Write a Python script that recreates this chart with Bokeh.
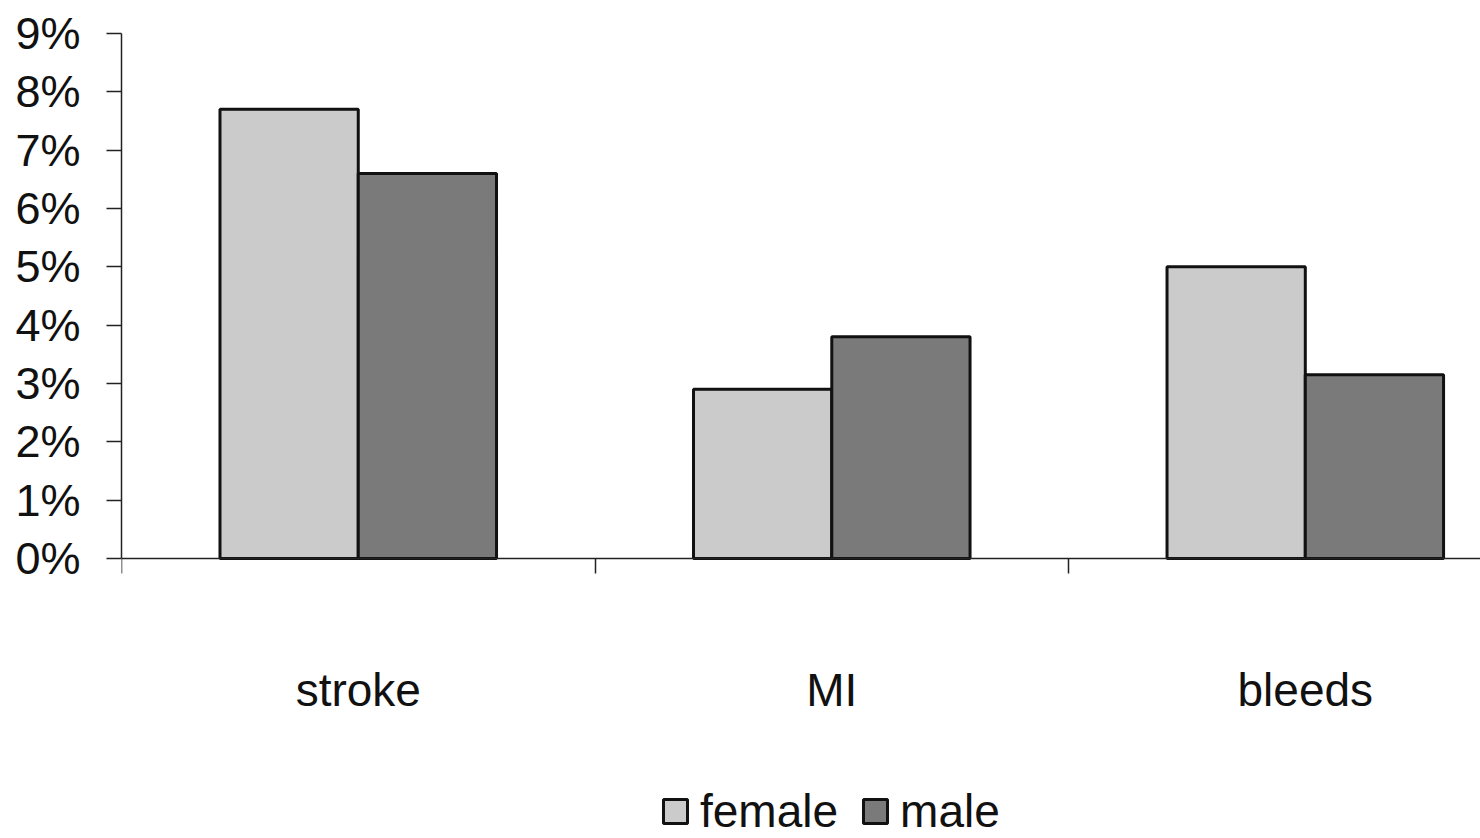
from bokeh.plotting import figure
from bokeh.models import FixedTicker, PrintfTickFormatter, Legend, LegendItem, ColumnDataSource
from bokeh.embed import file_html
from bokeh.resources import INLINE

categories = ["stroke", "MI", "bleeds"]
female = [7.7, 2.9, 5.0]
male = [6.6, 3.8, 3.15]
y_ticks = [0, 1, 2, 3, 4, 5, 6, 7, 8, 9]

FONT = "Liberation Sans"
bar_w = 0.292
centers = [i + 0.5 for i in range(len(categories))]

# frame runs from the 9% line down to the bottom of the picture; the x axis sits at 0%
p = figure(width=1480, height=838, output_backend="svg", toolbar_location=None,
           x_range=(0, 2.87), y_range=(-4.8, 9),
           min_border_left=121, min_border_top=33, min_border_bottom=0, min_border_right=0)
p.outline_line_color = None
p.grid.visible = False
p.background_fill_color = "white"
p.border_fill_color = "white"

src_f = ColumnDataSource(dict(x=[c - bar_w / 2 for c in centers], top=female))
src_m = ColumnDataSource(dict(x=[c + bar_w / 2 for c in centers], top=male))
rf = p.vbar(x="x", top="top", bottom=0, width=bar_w, source=src_f,
            fill_color="#cbcbcb", line_color="#111111", line_width=3)
rm = p.vbar(x="x", top="top", bottom=0, width=bar_w, source=src_m,
            fill_color="#7a7a7a", line_color="#111111", line_width=3)

# y axis
ya = p.yaxis[0]
ya.ticker = FixedTicker(ticks=y_ticks)
ya.formatter = PrintfTickFormatter(format="%d%%")
ya.bounds = (0, 9)
ya.major_tick_out = 15
ya.major_tick_in = 0
ya.minor_tick_out = 0
ya.minor_tick_in = 0
ya.major_label_standoff = 26
ya.major_label_text_font = FONT
ya.major_label_text_font_size = "45px"
ya.major_label_text_color = "#111111"
ya.axis_line_color = "#222222"
ya.axis_line_width = 1.5
ya.major_tick_line_color = "#222222"
ya.major_tick_line_width = 1.5

# x axis at 0%: labels at centers, boundary ticks as minor ticks
xa = p.xaxis[0]
xa.fixed_location = 0
xa.ticker = FixedTicker(ticks=centers, minor_ticks=[0, 1, 2])
xa.major_label_overrides = {c: name for c, name in zip(centers, categories)}
xa.major_tick_out = 0
xa.major_tick_in = 0
xa.minor_tick_out = 15
xa.minor_tick_in = 0
xa.major_label_standoff = 90
xa.major_label_text_font = FONT
xa.major_label_text_font_size = "46px"
xa.major_label_text_color = "#111111"
xa.axis_line_color = "#222222"
xa.axis_line_width = 1.5
xa.minor_tick_line_color = "#222222"
xa.minor_tick_line_width = 1.5

legend = Legend(items=[LegendItem(label="female", renderers=[rf]),
                       LegendItem(label="male", renderers=[rm])],
                orientation="horizontal", location=(539, 0))
legend.label_text_font = FONT
legend.label_text_font_size = "46px"
legend.label_text_color = "#111111"
legend.label_height = 40
legend.glyph_width = 30
legend.glyph_height = 30
legend.label_standoff = 10
legend.spacing = 22
legend.padding = 0
legend.margin = 0
legend.border_line_color = None
legend.background_fill_alpha = 0
p.add_layout(legend, "center")

open("out.html", "w").write(file_html(p, INLINE))
